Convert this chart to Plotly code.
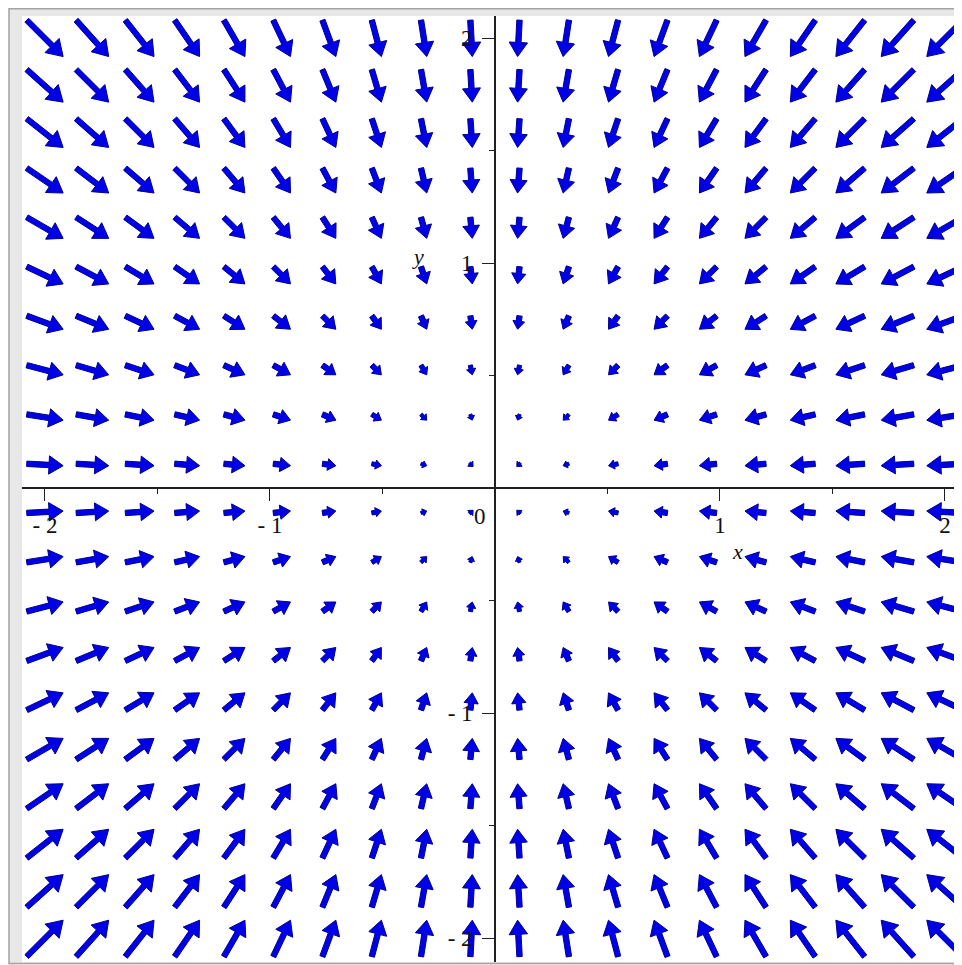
import math
import plotly.graph_objects as go

# ---------------- data ----------------
# grid of sample points (20 x 20, from -2 to 2)
x_grid = [-2.0, -1.789, -1.579, -1.368, -1.158, -0.947, -0.737, -0.526, -0.316, -0.105,
          0.105, 0.316, 0.526, 0.737, 0.947, 1.158, 1.368, 1.579, 1.789, 2.0]
y_grid = [2.0, 1.789, 1.579, 1.368, 1.158, 0.947, 0.737, 0.526, 0.316, 0.105,
          -0.105, -0.316, -0.526, -0.737, -0.947, -1.158, -1.368, -1.579, -1.789, -2.0]
# field components: u depends on the column, v on the row (field points to the origin)
u_by_column = [2.0, 1.789, 1.579, 1.368, 1.158, 0.947, 0.737, 0.526, 0.316, 0.105,
               -0.105, -0.316, -0.526, -0.737, -0.947, -1.158, -1.368, -1.579, -1.789, -2.0]
v_by_row = [-2.0, -1.789, -1.579, -1.368, -1.158, -0.947, -0.737, -0.526, -0.316, -0.105,
            0.105, 0.316, 0.526, 0.737, 0.947, 1.158, 1.368, 1.579, 1.789, 2.0]

x_tick_vals = [-2, -1, 1, 2]
x_tick_text = ["- 2", "- 1", "1", "2"]
y_tick_vals = [-2, -1, 1, 2]
y_tick_text = ["- 2", "- 1", "1", "2"]
minor_tick_vals = [-1.5, -0.5, 0.5, 1.5]

# ---------------- layout geometry ----------------
# the page body adds an 8px offset, so the figure is drawn 8px smaller
W, H = 954, 957
ML, MT, MR, MB = 14, 8, 0, 3
PW, PH = W - ML - MR, H - MT - MB
PX_PER_UNIT = 225.0
X_RANGE = [-2.102, -2.102 + PW / PX_PER_UNIT]
Y_RANGE = [-2.105, -2.105 + PH / PX_PER_UNIT]
sx = PW / (X_RANGE[1] - X_RANGE[0])
sy = PH / (Y_RANGE[1] - Y_RANGE[0])

ARROW_PX_PER_MAG = 18.2
FILL = "#0000e6"
EDGE = "#000092"
FONT = "Liberation Serif"

# ---------------- arrows ----------------
ax_pts, ay_pts = [], []
for i, x0 in enumerate(x_grid):
    for j, y0 in enumerate(y_grid):
        u, v = u_by_column[i], v_by_row[j]
        mag = math.hypot(u, v)
        L = max(ARROW_PX_PER_MAG * mag, 5.0)
        dx, dy = u / mag, v / mag
        px, py = -dy, dx
        h = min(max(0.6 * L, 4.0), 10.5 + 0.1 * L)
        hw = 0.55 * h + 1.4
        sw = min(2.7, 0.45 * hw)
        neck = max(L - h, 0.0)
        t = -L / 2.0

        def pt(a, b):
            return (x0 + (dx * a + px * b) / sx, y0 + (dy * a + py * b) / sy)

        poly = [pt(t, sw), pt(t + neck, sw), pt(t + neck, hw), pt(L / 2.0, 0),
                pt(t + neck, -hw), pt(t + neck, -sw), pt(t, -sw), pt(t, sw)]
        for (a, b) in poly:
            ax_pts.append(a)
            ay_pts.append(b)
        ax_pts.append(None)
        ay_pts.append(None)

fig = go.Figure()
fig.add_trace(go.Scatter(
    x=ax_pts, y=ay_pts, mode="lines", fill="toself", fillcolor=FILL,
    line=dict(color=EDGE, width=1), hoverinfo="skip", showlegend=False,
    connectgaps=False,
))

# ---------------- frame ----------------
def fx(p):
    return (p - ML) / PW


def fy(p):
    return (H - MB - p) / PH


shapes = [
    dict(type="rect", xref="paper", yref="paper", x0=fx(1), x1=fx(990), y0=fy(955.5), y1=fy(0.8),
         fillcolor="#e8e8e8", line=dict(color="#a4a4a4", width=1.5), layer="below"),
    dict(type="rect", xref="paper", yref="paper", x0=0, x1=1, y0=0, y1=1,
         fillcolor="#ffffff", line=dict(width=0), layer="below"),
]

x_pos = (0 - Y_RANGE[0]) / (Y_RANGE[1] - Y_RANGE[0])
y_pos = (0 - X_RANGE[0]) / (X_RANGE[1] - X_RANGE[0])

tick_font = dict(family=FONT, size=23, color="#111111")

fig.update_layout(
    width=W, height=H,
    margin=dict(l=ML, r=MR, t=MT, b=MB, pad=0),
    paper_bgcolor="#f0f0f0",
    plot_bgcolor="rgba(0,0,0,0)",
    shapes=shapes,
    showlegend=False,
    xaxis=dict(
        range=X_RANGE, anchor="free", position=x_pos, showgrid=False, zeroline=False,
        showline=True, linecolor="#202020", linewidth=1.5,
        tickmode="array", tickvals=x_tick_vals, ticktext=x_tick_text,
        ticks="outside", ticklen=12, tickwidth=1.3, tickcolor="#202020",
        tickfont=tick_font, ticklabelstandoff=4,
        minor=dict(tickmode="array", tickvals=minor_tick_vals, ticks="outside",
                   ticklen=5, tickwidth=1.3, tickcolor="#202020"),
        fixedrange=True,
    ),
    yaxis=dict(
        range=Y_RANGE, anchor="free", position=y_pos, showgrid=False, zeroline=False,
        showline=True, linecolor="#202020", linewidth=1.5,
        tickmode="array", tickvals=y_tick_vals, ticktext=y_tick_text,
        ticks="outside", ticklen=12, tickwidth=1.3, tickcolor="#202020",
        tickfont=tick_font, ticklabelstandoff=5,
        minor=dict(tickmode="array", tickvals=minor_tick_vals, ticks="outside",
                   ticklen=5, tickwidth=1.3, tickcolor="#202020"),
        fixedrange=True,
    ),
    annotations=[
        dict(x=0, y=0, xref="x", yref="y", text="0", showarrow=False,
             xshift=-15, yshift=-28, font=tick_font),
        dict(x=1.076, y=-0.282, xref="x", yref="y", text="<i>x</i>", showarrow=False,
             font=dict(family=FONT, size=22, color="#111111")),
        dict(x=-0.342, y=1.032, xref="x", yref="y", text="<i>y</i>", showarrow=False,
             font=dict(family=FONT, size=22, color="#111111")),
    ],
)

fig.write_html("out.html")
